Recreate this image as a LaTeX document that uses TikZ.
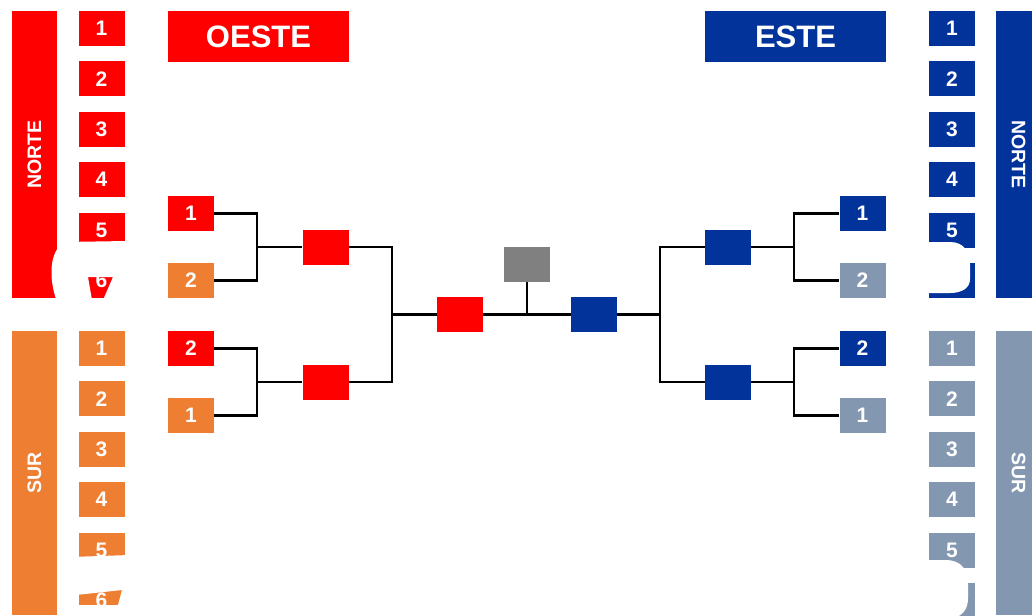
\documentclass[tikz,border=0pt]{standalone}
\usepackage{fontspec}
\setmainfont{Liberation Sans}
\definecolor{cred}{HTML}{FE0000}
\definecolor{corange}{HTML}{EE7E32}
\definecolor{cblue}{HTML}{02339B}
\definecolor{cgblue}{HTML}{8497B0}
\definecolor{cgray}{HTML}{808080}
\begin{document}
\begin{tikzpicture}[x=1pt,y=-1pt,
  box/.style={inner sep=0pt, minimum width=46pt, minimum height=35pt, text=white,
    font=\fontsize{21}{21}\selectfont\bfseries},
  header/.style={inner sep=0pt, minimum width=181pt, minimum height=51pt, text=white,
    font=\fontsize{31}{31}\selectfont\bfseries},
  bar/.style={inner sep=0pt, minimum height=45pt, text=white,
    font=\fontsize{19.5}{19.5}\selectfont\bfseries},
  link/.style={line width=2.8pt, black},
  blob/.style={fill=white, draw=none}]
\useasboundingbox (0,0) rectangle (1032,615);
\clip (0,0) rectangle (1032,615);

% side bars
\node[bar, fill=cred, rotate=90, minimum width=287pt] (barLN) at (34.5,154.5) {NORTE};
\node[bar, fill=corange, rotate=90, minimum width=284pt] (barLS) at (34.5,473) {SUR};
\node[bar, fill=cblue, rotate=-90, minimum width=287pt] (barRN) at (1018.5,154.5) {NORTE};
\node[bar, fill=cgblue, rotate=-90, minimum width=284pt] (barRS) at (1018.5,473) {SUR};

% numbered columns
\foreach \i in {1,...,6}{
  \node[box, fill=cred] (ln\i) at (101.5,{28.5+50.4*(\i-1)}) {\i};
  \node[box, fill=corange] (ls\i) at (101.5,{348.5+50.4*(\i-1)}) {\i};
  \node[box, fill=cblue] (rn\i) at (952,{28.5+50.4*(\i-1)}) {\i};
  \node[box, fill=cgblue] (rs\i) at (952,{348.5+50.4*(\i-1)}) {\i};
}

% headers
\node[header, fill=cred] (oeste) at (258.5,36.5) {OESTE};
\node[header, fill=cblue] (este) at (795.5,36.5) {ESTE};

% left bracket
\node[box, fill=cred] (la1) at (191,213.5) {1};
\node[box, fill=corange] (la2) at (191,280.5) {2};
\node[box, fill=cred] (la3) at (191,348.5) {2};
\node[box, fill=corange] (la4) at (191,415.5) {1};
\node[box, fill=cred] (lr1) at (325.5,247) {};
\node[box, fill=cred] (lr2) at (325.5,382) {};
\node[box, fill=cred] (cr) at (460,314.5) {};
% right bracket
\node[box, fill=cblue] (ra1) at (862.5,213.5) {1};
\node[box, fill=cgblue] (ra2) at (862.5,280.5) {2};
\node[box, fill=cblue] (ra3) at (862.5,348.5) {2};
\node[box, fill=cgblue] (ra4) at (862.5,415.5) {1};
\node[box, fill=cblue] (rr1) at (728,247) {};
\node[box, fill=cblue] (rr2) at (728,382) {};
\node[box, fill=cblue] (cb) at (594,314.5) {};
% final
\node[box, fill=cgray] (fin) at (527,264) {};

\coordinate (jl1) at (257,247);
\coordinate (jl2) at (257,382);
\coordinate (jl) at (392,314.5);
\coordinate (jr1) at (794,247);
\coordinate (jr2) at (794,382);
\coordinate (jr) at (660,314.5);
\coordinate (jc) at (527,314.5);

\draw[link] (la1.east) -| (jl1) |- (la2.east);
\draw[link] (jl1) -- (lr1.west);
\draw[link] (la3.east) -| (jl2) |- (la4.east);
\draw[link] (jl2) -- (lr2.west);
\draw[link] (lr1.east) -| (jl) |- (lr2.east);
\draw[link] (jl) -- (cr.west);
\draw[link] (ra1.west) -| (jr1) |- (ra2.west);
\draw[link] (jr1) -- (rr1.east);
\draw[link] (ra3.west) -| (jr2) |- (ra4.west);
\draw[link] (jr2) -- (rr2.east);
\draw[link] (rr1.west) -| (jr) |- (rr2.west);
\draw[link] (jr) -- (cb.east);
\draw[link] (cr.east) -- (cb.west);
\draw[link] (fin.south) -- (jc);

% white blotches
\path[blob] (56,299) .. controls (49,278) and (49,252) .. (64,242) -- (127,241) -- (127,300)
  -- (103,300) -- (113,277) -- (88,277) -- (92,300) -- cycle;
\path[blob] (924,242) -- (950,242) .. controls (964,242) and (970,252) .. (970,265)
  -- (970,279) .. controls (970,288) and (962,293) .. (950,293) -- (924,293) -- cycle;
\path[blob, even odd rule] (70,557) -- (130,555) -- (130,616) -- (70,616) -- cycle
  (76,595) -- (122,590) -- (118,605) -- (76,605) -- cycle;
\path[blob] (924,560) -- (945,560) .. controls (962,560) and (968,570) .. (968,585)
  -- (968,598) .. controls (968,610) and (962,615) .. (955,618) -- (924,618) -- cycle;
\end{tikzpicture}
\end{document}
